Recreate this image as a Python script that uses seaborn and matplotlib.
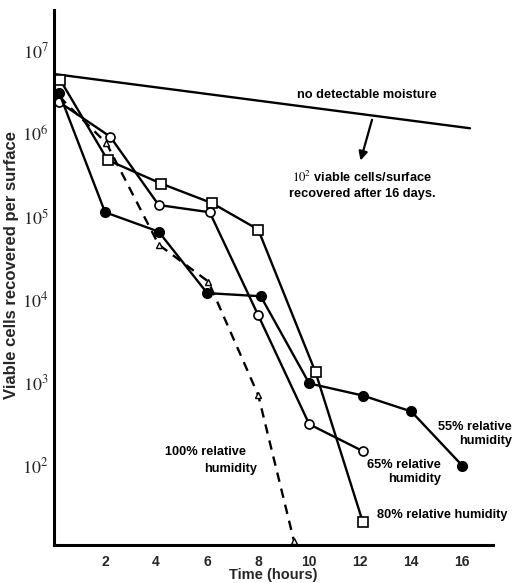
import pandas as pd
import seaborn as sns
import matplotlib.pyplot as plt

# time (hours) and viable cells recovered per surface
t_55 = [0.2, 2.0, 4.1, 6.0, 8.1, 10.0, 12.1, 14.0, 16.0]
v_55 = [3.1e6, 1.13e5, 6.6e4, 1.2e4, 1.1e4, 980, 700, 450, 100]

t_65 = [0.2, 2.2, 4.1, 6.1, 8.0, 10.0, 12.1]
v_65 = [2.4e6, 9.2e5, 1.38e5, 1.13e5, 6.5e3, 316, 150]

t_80 = [0.25, 2.1, 4.2, 6.2, 8.0, 10.25, 12.1]
v_80 = [4.4e6, 4.8e5, 2.5e5, 1.45e5, 7.0e4, 1.33e3, 21]

t_100 = [0.2, 2.05, 4.1, 6.05, 8.0, 9.4]
v_100 = [2.8e6, 7.7e5, 4.6e4, 1.65e4, 710, 12.5]

t_dry = [0.05, 16.3]
v_dry = [5.2e6, 1.16e6]

x_ticks = [2, 4, 6, 8, 10, 12, 14, 16]
y_ticks = [1e2, 1e3, 1e4, 1e5, 1e6, 1e7]
y_tick_labels = ['$10^{2}$', '$10^{3}$', '$10^{4}$', '$10^{5}$', '$10^{6}$', '$10^{7}$']

sns.set_style('white')
plt.rcParams['font.family'] = ['Liberation Sans', 'DejaVu Sans']
plt.rcParams['mathtext.fontset'] = 'stix'

fig = plt.figure(figsize=(5.16, 5.83), dpi=100)
ax = fig.add_axes([0.1047, 0.0652, 0.8507, 0.918])

line_kw = dict(color='black', linewidth=1.7, estimator=None, sort=False, ax=ax)

sns.lineplot(x=t_dry, y=v_dry, **line_kw)
sns.lineplot(x=t_100, y=v_100, linestyle=(0, (4, 3)), marker='^', markersize=5,
             markerfacecolor='white', markeredgecolor='black', markeredgewidth=1.0, **line_kw)
sns.lineplot(x=t_80, y=v_80, marker='s', markersize=6.5,
             markerfacecolor='white', markeredgecolor='black', markeredgewidth=1.2, **line_kw)
sns.lineplot(x=t_65, y=v_65, marker='o', markersize=6.5,
             markerfacecolor='white', markeredgecolor='black', markeredgewidth=1.2, **line_kw)
sns.lineplot(x=t_55, y=v_55, marker='o', markersize=7,
             markerfacecolor='black', markeredgecolor='black', markeredgewidth=1.0, **line_kw)

ax.set_yscale('log')
ax.set_xlim(0, 17.2)
ax.set_ylim(11.1, 3.1e7)
ax.set_xticks(x_ticks)
ax.set_xticklabels([str(x) for x in x_ticks], fontsize=10, fontweight='bold')
ax.set_yticks(y_ticks)
ax.set_yticklabels(y_tick_labels, fontsize=13)
ax.minorticks_off()
ax.tick_params(axis='both', direction='in', length=5, width=1.8, pad=4, color='black')
ax.tick_params(axis='x', pad=7)

for side in ['top', 'right']:
    ax.spines[side].set_visible(False)
for side in ['left', 'bottom']:
    ax.spines[side].set_linewidth(2.2)
    ax.spines[side].set_color('black')

ax.set_xlabel('Time (hours)', fontsize=10.5, fontweight='bold', va='bottom')
ax.xaxis.set_label_coords(0.499, -0.0692)
ax.set_ylabel('Viable cells recovered per surface', fontsize=12, fontweight='bold', va='center')
ax.yaxis.set_label_coords(-0.096, 0.523)

txt = dict(fontsize=9.2, fontweight='bold', color='black', clip_on=False)
ax.text(12.25, 2.93e6, 'no detectable moisture', ha='center', va='center', **txt)
ax.text(12.08, 2.41e5, '$10^{2}$ viable cells/surface\nrecovered after 16 days.',
        ha='center', va='center', linespacing=1.3, **txt)
ax.annotate('', xy=(11.98, 4.4e5), xytext=(12.49, 1.58e6),
            arrowprops=dict(arrowstyle='-|>', color='black', lw=1.6, mutation_scale=13))

ax.text(17.95, 241, '55% relative\nhumidity', ha='right', va='center', multialignment='right', **txt)
ax.text(15.17, 84.7, '65% relative\nhumidity', ha='right', va='center', multialignment='right', **txt)
ax.text(12.64, 25.5, '80% relative humidity', ha='left', va='center', **txt)
ax.text(5.94, 145, '100% relative', ha='center', va='center', **txt)
ax.text(6.92, 92, 'humidity', ha='center', va='center', **txt)

fig.savefig('out.png', dpi=100)
